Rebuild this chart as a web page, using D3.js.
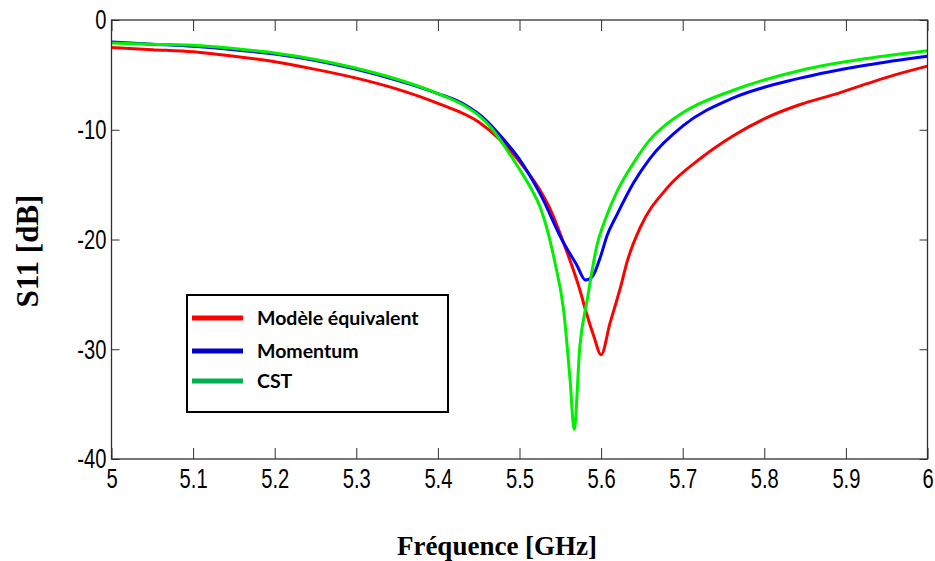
<!DOCTYPE html>
<html><head><meta charset="utf-8">
<script src="https://cdn.jsdelivr.net/npm/d3@7"></script>
<style>html,body{margin:0;padding:0;background:#fff;}</style>
</head><body>
<svg id="chart" width="935" height="561"></svg>
<script>
const seriesNames = ["Modèle équivalent", "Momentum", "CST"];
const lineColors = ["#ff0000", "#0000ff", "#00f000"];
const legendColors = ["#ff0000", "#0000c8", "#00b050"];
const xTicks = [5, 5.1, 5.2, 5.3, 5.4, 5.5, 5.6, 5.7, 5.8, 5.9, 6];
const yTicks = [0, -10, -20, -30, -40];

const freqRed = [5.00,5.05,5.10,5.15,5.20,5.25,5.30,5.35,5.40,5.45,5.476,5.50,5.525,5.538,5.554,5.574,5.582,5.591,5.600,5.611,5.624,5.632,5.648,5.681,5.722,5.763,5.803,5.844,5.885,5.926,5.96,6.00];
const s11Red  = [-2.5,-2.7,-2.9,-3.3,-3.8,-4.5,-5.3,-6.3,-7.6,-9.3,-10.9,-12.9,-15.5,-17.3,-20.3,-24.6,-26.7,-28.8,-30.5,-27.6,-24.3,-22.0,-18.9,-15.3,-12.6,-10.5,-8.9,-7.7,-6.8,-5.8,-5.0,-4.2];

const freqBlue = [5.00,5.05,5.10,5.15,5.20,5.25,5.30,5.35,5.40,5.43,5.46,5.476,5.50,5.525,5.554,5.570,5.581,5.589,5.600,5.607,5.619,5.640,5.660,5.701,5.762,5.844,5.926,6.00];
const s11Blue  = [-2.0,-2.2,-2.4,-2.7,-3.1,-3.7,-4.5,-5.5,-6.7,-7.6,-9.2,-10.5,-12.7,-15.8,-20.3,-22.3,-23.7,-23.4,-21.4,-19.7,-17.8,-14.8,-12.6,-9.6,-7.1,-5.3,-4.1,-3.3];

const freqGreen = [5.00,5.05,5.10,5.15,5.20,5.25,5.30,5.35,5.40,5.43,5.45,5.465,5.476,5.50,5.513,5.525,5.534,5.544,5.554,5.562,5.567,5.574,5.583,5.595,5.605,5.619,5.640,5.660,5.680,5.701,5.762,5.844,5.926,6.00];
const s11Green  = [-2.1,-2.2,-2.3,-2.6,-3.0,-3.6,-4.4,-5.4,-6.7,-7.7,-8.7,-9.8,-10.9,-13.6,-15.2,-17.0,-19.1,-22.3,-26.4,-32.8,-37.3,-29.7,-25.5,-20.5,-18.2,-15.7,-13.0,-10.9,-9.5,-8.4,-6.4,-4.6,-3.5,-2.8];

const series = [
  {name: seriesNames[0], f: freqRed, v: s11Red, c: lineColors[0], lc: legendColors[0]},
  {name: seriesNames[1], f: freqBlue, v: s11Blue, c: lineColors[1], lc: legendColors[1]},
  {name: seriesNames[2], f: freqGreen, v: s11Green, c: lineColors[2], lc: legendColors[2]}
];

const L = 111.5, R = 927.5, T = 20, B = 459;
const svg = d3.select("#chart");
const x = d3.scaleLinear().domain([5, 6]).range([L, R]);
const y = d3.scaleLinear().domain([-40, 0]).range([B, T]);

const tickFont = "'Liberation Sans',Arial,sans-serif";
const axisCol = "#303030";
const fmt = d => String(+d.toFixed(1));

svg.append("defs").append("clipPath").attr("id","clip")
  .append("rect").attr("x", L).attr("y", T).attr("width", R-L).attr("height", B-T);

const line = d3.line().x(d => x(d[0])).y(d => y(d[1])).curve(d3.curveMonotoneX);
const g = svg.append("g").attr("clip-path","url(#clip)");
series.forEach(s => {
  g.append("path").datum(s.f.map((f,i)=>[f, s.v[i]]))
    .attr("d", line).attr("fill","none").attr("stroke", s.c)
    .attr("stroke-width", 3).attr("stroke-linejoin","round");
});

const axB = d3.axisBottom(x).tickValues(xTicks).tickSize(-11).tickPadding(9).tickFormat(fmt);
const axT = d3.axisTop(x).tickValues(xTicks).tickSize(-11).tickFormat("");
const axL = d3.axisLeft(y).tickValues(yTicks).tickSize(-8).tickPadding(7).tickFormat(fmt);
const axR = d3.axisRight(y).tickValues(yTicks).tickSize(-8).tickFormat("");

function style(sel){
  sel.select(".domain").remove();
  sel.selectAll(".tick line").attr("stroke", axisCol).attr("stroke-width",1);
  sel.selectAll(".tick text").attr("fill","#000").attr("font-family", tickFont)
    .attr("font-size", 28).attr("transform","scale(0.72,1)");
}
svg.append("g").attr("transform",`translate(0,${B})`).call(axB).call(style);
svg.append("g").attr("transform",`translate(0,${T})`).call(axT).call(style);
svg.append("g").attr("transform",`translate(${L},0)`).call(axL).call(style);
svg.append("g").attr("transform",`translate(${R},0)`).call(axR).call(style);

svg.append("rect").attr("x", L).attr("y", T).attr("width", R-L).attr("height", B-T)
  .attr("fill","none").attr("stroke", axisCol).attr("stroke-width", 1.3);

svg.append("text").attr("x", 497).attr("y", 555).attr("text-anchor","middle")
  .attr("font-family","'Liberation Serif','Times New Roman',serif").attr("font-weight","bold")
  .attr("font-size", 27).text("Fréquence [GHz]");
svg.append("text").attr("transform","translate(38,251) rotate(-90)").attr("text-anchor","middle")
  .attr("font-family","'Liberation Serif','Times New Roman',serif").attr("font-weight","bold")
  .attr("font-size", 31).text("S11 [dB]");

const lg = svg.append("g");
lg.append("rect").attr("x",187).attr("y",295).attr("width",261).attr("height",117)
  .attr("fill","#fff").attr("stroke","#000").attr("stroke-width",2);
series.forEach((s,i) => {
  const yy = [318, 351, 381][i];
  lg.append("line").attr("x1",192).attr("x2",243).attr("y1",yy).attr("y2",yy)
    .attr("stroke", s.lc).attr("stroke-width",5);
  lg.append("text").attr("x",257).attr("y",yy+7).attr("font-family","Lato,'Open Sans',sans-serif")
    .attr("font-weight","bold").attr("font-size",19.5).attr("fill","#000").text(s.name);
});
</script>
</body></html>
